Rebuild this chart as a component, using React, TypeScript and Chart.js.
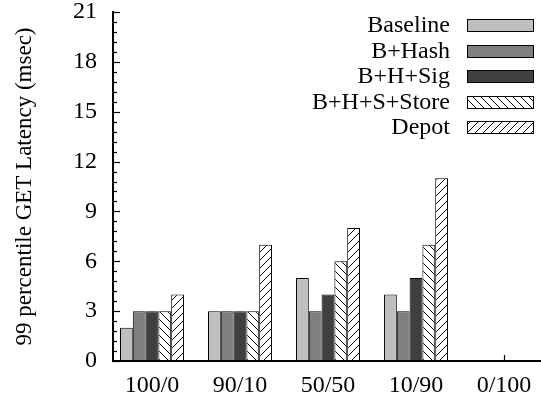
import React, { useEffect, useRef } from "react";
import { Chart, registerables } from "chart.js";

Chart.register(...registerables);

const categories = ["100/0", "90/10", "50/50", "10/90", "0/100"];
const seriesNames = ["Baseline", "B+Hash", "B+H+Sig", "B+H+S+Store", "Depot"];
const baseline = [2, 3, 5, 4, null];
const bHash = [3, 3, 3, 3, null];
const bHSig = [3, 3, 4, 5, null];
const bHSStore = [3, 3, 6, 7, null];
const depot = [4, 7, 8, 11, null];
const yTicks = [0, 3, 6, 9, 12, 15, 18, 21];
const yTitle = "99 percentile GET Latency (msec)";

const FONT = '"Times New Roman"';
const FS = 24;
const TITLE_FS = 23;

function makeHatch(forward: boolean): CanvasPattern | string {
  const s = 8;
  const c = document.createElement("canvas");
  c.width = s;
  c.height = s;
  const g = c.getContext("2d");
  if (!g) return "#fff";
  g.fillStyle = "#fff";
  g.fillRect(0, 0, s, s);
  g.strokeStyle = "#000";
  g.lineWidth = 1;
  g.beginPath();
  if (forward) {
    g.moveTo(-1, s + 1);
    g.lineTo(s + 1, -1);
    g.moveTo(-1, 1);
    g.lineTo(1, -1);
    g.moveTo(s - 1, s + 1);
    g.lineTo(s + 1, s - 1);
  } else {
    g.moveTo(-1, -1);
    g.lineTo(s + 1, s + 1);
    g.moveTo(s - 1, -1);
    g.lineTo(s + 1, 1);
    g.moveTo(-1, s - 1);
    g.lineTo(1, s + 1);
  }
  g.stroke();
  const p = g.createPattern(c, "repeat");
  return p || "#fff";
}

const tickPlugin = {
  id: "gnuTicks",
  beforeDatasetsDraw(chart: any) {
    const { ctx, chartArea, scales } = chart;
    const y = scales.y;
    const x = scales.x;
    ctx.save();
    ctx.strokeStyle = "#000";
    ctx.lineWidth = 1.2;
    for (let k = 0; k <= 35; k++) {
      const v = k * 0.6;
      const py = Math.round(y.getPixelForValue(v)) + 0.5;
      const len = k % 5 === 0 ? 7 : 4;
      ctx.beginPath();
      ctx.moveTo(chartArea.left, py);
      ctx.lineTo(chartArea.left + len, py);
      ctx.stroke();
    }
    for (let i = 0; i < categories.length; i++) {
      const px = Math.round(x.getPixelForValue(i)) + 0.5;
      ctx.beginPath();
      ctx.moveTo(px, chartArea.bottom);
      ctx.lineTo(px, chartArea.bottom - 6);
      ctx.stroke();
    }
    ctx.restore();
  },
};

const legendPlugin = {
  id: "gnuLegend",
  afterDraw(chart: any) {
    const { ctx } = chart;
    ctx.save();
    ctx.font = `${FS}px ${FONT}`;
    ctx.textAlign = "right";
    ctx.textBaseline = "middle";
    chart.data.datasets.forEach((ds: any, i: number) => {
      const cy = 25 + i * 25.5;
      ctx.fillStyle = "#000";
      ctx.fillText(ds.label, 450, cy + 1);
      ctx.fillStyle = ds.backgroundColor;
      ctx.fillRect(467, Math.round(cy - 6), 66, 12);
      ctx.strokeStyle = "#000";
      ctx.lineWidth = 1;
      ctx.strokeRect(467.5, Math.round(cy - 6) + 0.5, 66, 12);
    });
    ctx.restore();
  },
};

export default function App() {
  const ref = useRef<HTMLCanvasElement | null>(null);

  useEffect(() => {
    if (!ref.current) return;
    Chart.defaults.font.family = FONT;
    Chart.defaults.color = "#000";
    const fills: any[] = ["#bfbfbf", "#7f7f7f", "#404040", makeHatch(false), makeHatch(true)];
    const all = [baseline, bHash, bHSig, bHSStore, depot];
    const datasets = all.map((vals, si) => ({
      label: seriesNames[si],
      data: vals.map((v, i) => ({ x: i, y: v })),
      backgroundColor: fills[si],
      borderColor: "#000",
      borderWidth: 1,
      borderSkipped: false as any,
      categoryPercentage: 0.727,
      barPercentage: 1,
    }));
    const chart = new Chart(ref.current, {
      type: "bar",
      data: { datasets: datasets as any },
      plugins: [tickPlugin, legendPlugin],
      options: {
        animation: false,
        responsive: false,
        devicePixelRatio: 1,
        layout: { padding: { top: 12, right: 0, left: 0, bottom: 0 } },
        plugins: { legend: { display: false }, tooltip: { enabled: false } },
        scales: {
          x: {
            type: "linear",
            offset: false,
            min: -0.443,
            max: 4.42,
            grid: { display: false, drawTicks: false, offset: false },
            border: { display: true, width: 2, color: "#000" },
            afterBuildTicks: (s: any) => {
              s.ticks = categories.map((_, i) => ({ value: i }));
            },
            ticks: {
              padding: 10,
              autoSkip: false,
              maxRotation: 0,
              font: { size: FS, family: FONT },
              color: "#000",
              callback: (v: any) => categories[Math.round(Number(v))] ?? "",
            },
            afterFit: (s: any) => {
              s.height = 41;
              s.paddingLeft = 0;
              s.paddingRight = 0;
            },
          },
          y: {
            min: 0,
            max: 21,
            grid: { display: false, drawTicks: false },
            border: { display: true, width: 2, color: "#000" },
            afterBuildTicks: (s: any) => {
              s.ticks = yTicks.map((v) => ({ value: v }));
            },
            ticks: {
              padding: 16,
              font: { size: FS, family: FONT },
              color: "#000",
            },
            title: {
              display: true,
              text: yTitle,
              font: { size: TITLE_FS, family: FONT },
              color: "#000",
              padding: { top: 11, bottom: 0 },
            },
            afterFit: (s: any) => {
              s.width = 113;
              s.paddingTop = 0;
              s.paddingBottom = 0;
            },
          },
        },
      },
    });
    return () => chart.destroy();
  }, []);

  return (
    <div>
      <canvas ref={ref} width={541} height={402} style={{ position: "absolute", left: 0, top: 0 }} />
    </div>
  );
}
